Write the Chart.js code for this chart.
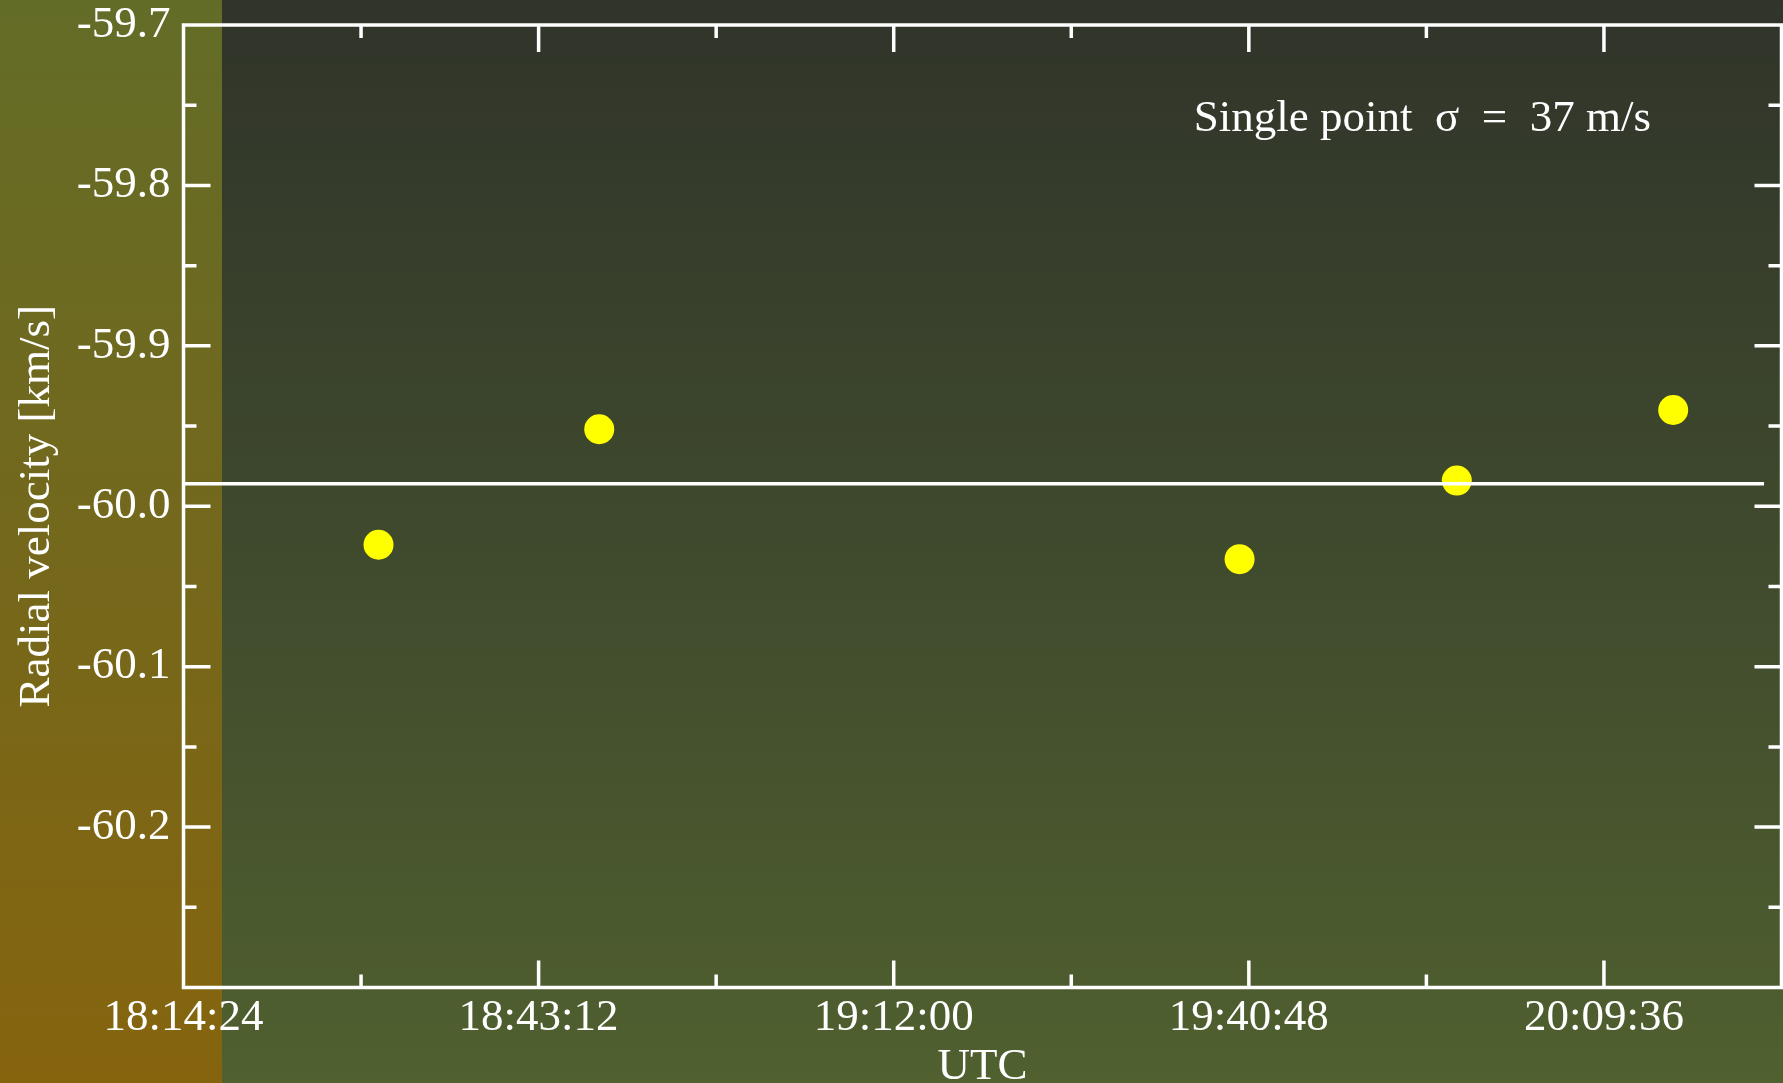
<!DOCTYPE html>
<html>
<head>
<meta charset="utf-8">
<script src="https://cdn.jsdelivr.net/npm/chart.js@4"></script>
<style>
  html, body { margin: 0; padding: 0; background: #3f4a2d; overflow: hidden; }
  #wrap { width: 1783px; height: 1083px; position: relative; }
</style>
</head>
<body>
<div id="wrap"><canvas id="rvChart"></canvas></div>
<script>
// observations (UTC) and measured radial velocities [km/s]
const obsTimes  = ['18:30:13', '18:48:07', '19:40:03', '19:57:40', '20:15:13'];
const rvValues  = [-60.024, -59.952, -60.033, -59.984, -59.940];

// mean level
const meanTimes = ['18:14:24', '20:22:35'];
const meanRv    = -59.986;

// axes
const xRange = ['18:14:24', '20:24:00'];
const xStepSec = 864;
const xTickLabels = ['18:14:24', '18:43:12', '19:12:00', '19:40:48', '20:09:36'];
const yRange = [-60.3, -59.7];
const yStep = 0.05;
const yTickLabels = ['-59.7', '-59.8', '-59.9', '-60.0', '-60.1', '-60.2'];

const noteText = 'Single point  \u03c3  =  37 m/s';
const notePos = { t: '19:36:20', v: -59.766 };

const FONT = '"Liberation Serif", "Times New Roman", serif';
const FSIZE = 45;

function toSec(s) {
  const [h, m, sec] = s.split(':').map(Number);
  return h * 3600 + m * 60 + sec;
}
function fmtTime(v) {
  const s = Math.round(v);
  const pad = n => String(n).padStart(2, '0');
  return pad(Math.floor(s / 3600)) + ':' + pad(Math.floor(s % 3600 / 60)) + ':' + pad(s % 60);
}
// only whole tenths count as major ticks on the y axis
const isMajorRv = v => Math.abs(Math.round(v * 100)) % 10 === 0;
const fmtRv = v => v.toFixed(1);
const yLabel = v => (isMajorRv(v) && yTickLabels.includes(fmtRv(v)) ? fmtRv(v) : '');
const xLabel = v => (xTickLabels.includes(fmtTime(v)) ? fmtTime(v) : '');

// gradient background: olive band on the left, dark green everywhere else
const bgPlugin = {
  id: 'bg',
  beforeDraw(chart) {
    const { ctx, width, height } = chart;
    ctx.save();
    let g = ctx.createLinearGradient(0, 0, 0, height);
    g.addColorStop(0, '#30342a');
    g.addColorStop(0.5, '#3f4a2d');
    g.addColorStop(1, '#50602f');
    ctx.fillStyle = g;
    ctx.fillRect(0, 0, width, height);
    g = ctx.createLinearGradient(0, 0, 0, height);
    g.addColorStop(0, '#636c27');
    g.addColorStop(0.5, '#74681c');
    g.addColorStop(1, '#86640e');
    ctx.fillStyle = g;
    ctx.fillRect(0, 0, 222, height);
    ctx.restore();
  }
};

// box frame with inward major / minor ticks on all four sides
const framePlugin = {
  id: 'frame',
  afterDatasetsDraw(chart) {
    const { ctx, chartArea: a, scales: { x, y } } = chart;
    ctx.save();
    ctx.strokeStyle = '#ffffff';
    ctx.lineWidth = 3.5;
    ctx.lineCap = 'butt';
    ctx.beginPath();
    x.ticks.forEach((t, i) => {
      if (i === 0 || i === x.ticks.length - 1) return;
      const px = x.getPixelForValue(t.value);
      const len = xLabel(t.value) ? 27 : 13;
      ctx.moveTo(px, a.bottom); ctx.lineTo(px, a.bottom - len);
      ctx.moveTo(px, a.top); ctx.lineTo(px, a.top + len);
    });
    y.ticks.forEach((t, i) => {
      if (i === 0 || i === y.ticks.length - 1) return;
      const py = y.getPixelForValue(t.value);
      const len = isMajorRv(t.value) ? 27 : 13;
      ctx.moveTo(a.left, py); ctx.lineTo(a.left + len, py);
      ctx.moveTo(a.right, py); ctx.lineTo(a.right - len, py);
    });
    ctx.stroke();
    ctx.strokeRect(a.left, a.top, a.right - a.left, a.bottom - a.top);

    ctx.fillStyle = '#ffffff';
    ctx.font = FSIZE + 'px ' + FONT;
    ctx.textBaseline = 'alphabetic';
    ctx.textAlign = 'left';
    ctx.fillText(noteText, x.getPixelForValue(toSec(notePos.t)), y.getPixelForValue(notePos.v));
    ctx.restore();
  }
};

function noPad(s) {
  s.paddingTop = 0; s.paddingBottom = 0; s.paddingLeft = 0; s.paddingRight = 0;
}

new Chart(document.getElementById('rvChart'), {
  type: 'scatter',
  data: {
    datasets: [
      {
        label: 'mean',
        data: meanTimes.map(t => ({ x: toSec(t), y: meanRv })),
        showLine: true,
        borderColor: '#ffffff',
        borderWidth: 3.5,
        pointRadius: 0,
        order: 0,
      },
      {
        label: 'RV',
        data: obsTimes.map((t, i) => ({ x: toSec(t), y: rvValues[i] })),
        backgroundColor: '#ffff00',
        borderWidth: 0,
        pointRadius: 15,
        pointHoverRadius: 15,
        order: 1,
      },
    ],
  },
  options: {
    responsive: true,
    maintainAspectRatio: false,
    animation: false,
    events: [],
    layout: { autoPadding: false, padding: { left: 0, top: 25, right: 1.5, bottom: 0 } },
    plugins: { legend: { display: false }, tooltip: { enabled: false } },
    scales: {
      x: {
        type: 'linear',
        min: toSec(xRange[0]),
        max: toSec(xRange[1]),
        afterFit: s => { s.height = 95.5; noPad(s); },
        grid: { display: false, drawTicks: false },
        border: { display: false },
        ticks: {
          stepSize: xStepSec,
          autoSkip: false,
          maxRotation: 0,
          padding: 4,
          color: '#ffffff',
          font: { family: FONT, size: FSIZE },
          callback: v => xLabel(v),
        },
        title: {
          display: true,
          text: 'UTC',
          color: '#ffffff',
          font: { family: FONT, size: FSIZE },
          padding: { top: 0, bottom: -11 },
        },
      },
      y: {
        type: 'linear',
        min: yRange[0],
        max: yRange[1],
        afterFit: s => { s.width = 183.5; noPad(s); },
        grid: { display: false, drawTicks: false },
        border: { display: false },
        ticks: {
          stepSize: yStep,
          autoSkip: false,
          padding: 13,
          color: '#ffffff',
          font: { family: FONT, size: FSIZE },
          callback: v => yLabel(v),
        },
        title: {
          display: true,
          text: 'Radial velocity [km/s]',
          color: '#ffffff',
          font: { family: FONT, size: FSIZE },
          padding: { top: 10, bottom: 0 },
        },
      },
    },
  },
  plugins: [bgPlugin, framePlugin],
});
</script>
</body>
</html>
